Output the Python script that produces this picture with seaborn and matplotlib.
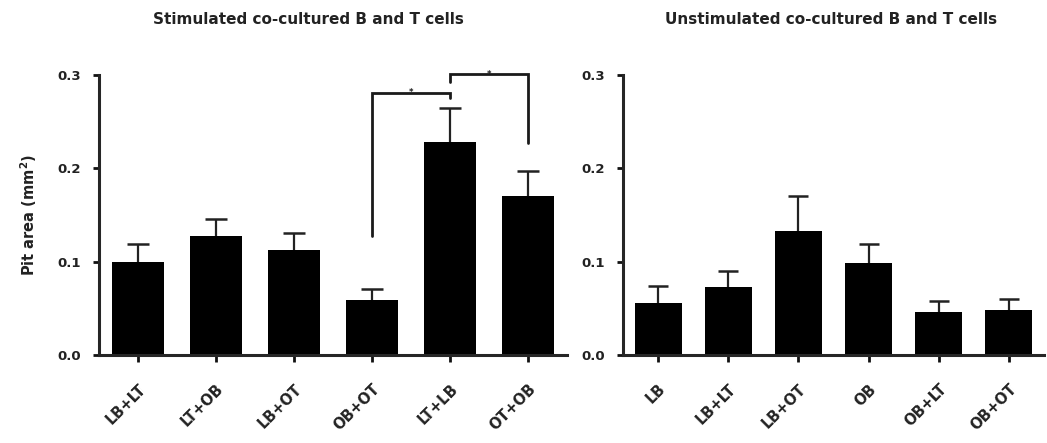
import matplotlib
matplotlib.use('Agg')
import matplotlib.pyplot as plt
import numpy as np
import seaborn as sns

# values (mean and upper SEM)
stim_groups = ['LB+LT', 'LT+OB', 'LB+OT', 'OB+OT', 'LT+LB', 'OT+OB']
stim_mean = [0.100, 0.127, 0.113, 0.059, 0.228, 0.170]
stim_err = [0.019, 0.019, 0.018, 0.012, 0.037, 0.027]

unstim_groups = ['LB', 'LB+LT', 'LB+OT', 'OB', 'OB+LT', 'OB+OT']
unstim_mean = [0.056, 0.073, 0.133, 0.099, 0.046, 0.048]
unstim_err = [0.018, 0.017, 0.037, 0.020, 0.012, 0.012]

# significance brackets: (left idx, right idx, top, left leg end, right leg end)
stim_brackets = [(3, 4, 0.281, 0.127, 0.275),
                 (4, 5, 0.301, 0.292, 0.227)]

sns.set_style('ticks')
plt.rcParams['font.family'] = ['DejaVu Sans']
plt.rcParams['font.weight'] = 'bold'
plt.rcParams['mathtext.default'] = 'bf'

fig = plt.figure(figsize=(10.47, 4.43), dpi=100)
ax1 = fig.add_axes([99 / 1047, 88 / 443, 468 / 1047, 280 / 443])
ax2 = fig.add_axes([623 / 1047, 88 / 443, 421 / 1047, 280 / 443])


def draw_panel(ax, groups, mean, err, cap):
    sns.barplot(x=groups, y=mean, color='black', width=0.67, ax=ax,
                edgecolor='black', linewidth=0, saturation=1)
    x = np.arange(len(groups))
    top = np.array(mean) + np.array(err)
    # upper-only SEM bars: stem from bar top, cap only at the upper end
    ax.vlines(x, mean, top, color='#222222', lw=1.6, zorder=3)
    ax.plot(x, top, ls='none', marker='_', ms=cap, mew=1.8,
            color='#222222', zorder=3)
    ax.set_xlim(-0.5, len(groups) - 0.5)
    ax.set_ylim(0, 0.3)
    ax.set_yticks([0.0, 0.1, 0.2, 0.3])
    ax.set_yticklabels(['0.0', '0.1', '0.2', '0.3'])
    ax.tick_params(axis='both', width=2.0, length=4, labelsize=9.5,
                   labelcolor='#222222', color='#111111')
    ax.tick_params(axis='x', length=5, pad=14, labelsize=10.5)
    ax.tick_params(axis='y', pad=9)
    for lab in ax.get_xticklabels():
        lab.set_rotation(45)
        lab.set_ha('right')
        lab.set_rotation_mode('anchor')
    sns.despine(ax=ax)
    ax.spines['left'].set_linewidth(2.2)
    ax.spines['bottom'].set_linewidth(2.2)
    ax.set_xlabel('')


draw_panel(ax1, stim_groups, stim_mean, stim_err, 16)
draw_panel(ax2, unstim_groups, unstim_mean, unstim_err, 15)

ax1.set_ylabel('Pit area (mm$^2$)', fontsize=10.5, fontweight='bold',
               color='#222222', labelpad=13)

for a, b, top, l_end, r_end in stim_brackets:
    ax1.plot([a, a, b, b], [l_end, top, top, r_end], color='#1a1a1a',
             lw=2.0, clip_on=False, solid_joinstyle='miter')
    ax1.text((a + b) / 2, top, '*', ha='center', va='center', fontsize=6,
             color='#1a1a1a', clip_on=False)

fig.text(308 / 1047, 1 - 20 / 443, 'Stimulated co-cultured B and T cells',
         ha='center', va='center', fontsize=11, fontweight='bold', color='#222222')
fig.text(831 / 1047, 1 - 20 / 443, 'Unstimulated co-cultured B and T cells',
         ha='center', va='center', fontsize=11, fontweight='bold', color='#222222')

fig.savefig('out.png', dpi=100)
